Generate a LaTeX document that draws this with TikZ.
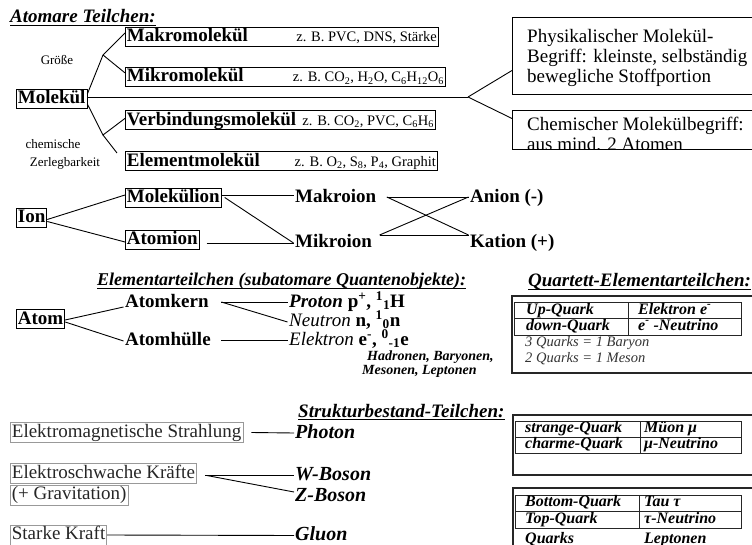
\documentclass[tikz,border=0pt]{standalone}
\usepackage{fontspec}
\setmainfont{Liberation Serif}
\newcommand\fsz[1]{\fontsize{#1}{#1}\selectfont}
\newcommand\exmf{\fontsize{14.5}{16}\selectfont\mdseries}
\begin{document}
\begin{tikzpicture}[x=1pt,y=-1pt,
  lbl/.style={font=\fsz{19}\bfseries, inner xsep=1.5pt, inner ysep=1.5pt, text height=13pt, text depth=3pt},
  bx/.style={lbl, draw=black, line width=0.8pt},
  gbx/.style={font=\fsz{19}, text=black!85, draw=black!40, line width=0.8pt, inner xsep=1.5pt, inner ysep=1.5pt, text height=13pt, text depth=4pt, anchor=west},
  head/.style={font=\fsz{19}\bfseries\itshape, inner sep=0pt, text depth=2.5pt, anchor=base west},
  ul/.style={line width=1pt},
  note/.style={font=\fsz{13}, inner sep=0pt},
  conn/.style={line width=0.9pt},
  bigbox/.style={draw=black, line width=1pt, inner sep=0pt, anchor=north west},
  outer/.style={draw=black!85, line width=1.2pt},
  tab/.style={draw=black!85, line width=1pt},
  tcell/.style={font=\fsz{16}\bfseries\itshape, inner sep=0pt, text height=11pt, text depth=3.5pt, anchor=west},
  tnote/.style={font=\fsz{14.5}\itshape, text=black!80, inner sep=0pt, text height=10pt, text depth=3pt, anchor=west},
  bi/.style={font=\fsz{20}\bfseries\itshape, inner sep=1pt, text height=13pt, text depth=3pt, anchor=west},
  ptext/.style={font=\fsz{19}, inner sep=0pt, anchor=base west},
  hl/.style={font=\fsz{14}\bfseries\itshape, inner sep=0pt, anchor=west},
]
\useasboundingbox (0,0) rectangle (752,545);

% ---------- Atomare Teilchen ----------
\node[head] (t1) at (10,22.5) {Atomare Teilchen:};
\draw[ul] (t1.south west) -- (t1.south east);

\node[bx, anchor=west] (molekul) at (16,99) {Molekül};
\node[bx, anchor=north west] (makro) at (125,27) {\makebox[310pt]{Makromolekül\hfill\exmf z. B. PVC, DNS, Stärke}};
\node[bx, anchor=north west] (mikro) at (125,67) {\makebox[317pt]{Mikromolekül\hfill\exmf z. B. CO\textsubscript{2}, H\textsubscript{2}O, C\textsubscript{6}H\textsubscript{12}O\textsubscript{6}}};
\node[bx, anchor=north west] (verb) at (125,110.5) {\makebox[307pt]{Verbindungsmolekül\hfill\exmf z. B. CO\textsubscript{2}, PVC, C\textsubscript{6}H\textsubscript{6}}};
\node[bx, anchor=north west] (elem) at (125,151.5) {\makebox[309pt]{Elementmolekül\hfill\exmf z. B. O\textsubscript{2}, S\textsubscript{8}, P\textsubscript{4}, Graphit}};

\node[note] (groesse) at (57,60) {Größe};
\node[note] (chem1) at (53,144) {chemische};
\node[note] (chem2) at (65,163) {Zerlegbarkeit};

\coordinate (gu) at (103,55);
\coordinate (gl) at (103,135);
\coordinate (eend) at (117,153);
\coordinate (split) at (468,97);
\draw[conn] ([yshift=5pt]molekul.east) -- (gu) -- ([yshift=4pt]makro.west);
\draw[conn] (gu) -- ([yshift=4pt]mikro.west);
\draw[conn] ([yshift=-5pt]molekul.east) -- (gl) -- ([yshift=2pt]verb.west);
\draw[conn] (gl) -- (eend);

\node[bigbox, minimum width=250pt, minimum height=77pt] (phys) at (512,17) {};
\node[ptext] (ph1) at (527,43) {Physikalischer Molekül-};
\node[ptext] (ph2) at (527,63) {Begriff: kleinste, selbständig};
\node[ptext] (ph3) at (527,83) {bewegliche Stoffportion};

\node[bigbox, minimum width=250pt, minimum height=39pt] (chem) at (512,110) {};
\begin{scope}
  \clip (512,100) rectangle (762,148.5);
  \node[ptext] (ch1) at (527,131) {Chemischer Molekülbegriff:};
  \node[ptext] (ch2) at (527,151) {aus mind. 2 Atomen};
\end{scope}

\draw[conn] ([yshift=2pt]molekul.east) -- (split);
\draw[conn] (split) -- ([yshift=-14.5pt]phys.west);
\draw[conn] (split) -- ([yshift=11.5pt]chem.west);

% ---------- Ion ----------
\node[bx, anchor=west] (ion) at (16,217.5) {Ion};
\node[bx, anchor=west] (molion) at (125,197.5) {Molekülion};
\node[bx, anchor=west] (atomion) at (125,240) {Atomion};
\node[lbl, anchor=west] (makroion) at (293.5,198) {Makroion};
\node[lbl, anchor=west] (mikroion) at (293.5,243) {Mikroion};
\node[lbl, anchor=west] (anion) at (468.5,198) {Anion (-)};
\node[lbl, anchor=west] (kation) at (468.5,243) {Kation (+)};

\draw[conn] ([yshift=-2pt]ion.east) -- ([yshift=2.5pt]molion.west);
\draw[conn] ([yshift=-4pt]ion.east) -- ([yshift=-2pt]atomion.west);
\draw[conn] ([yshift=2.5pt]molion.east) -- ([yshift=3pt]makroion.west);
\draw[conn] ([xshift=3pt]molion.east) -- (mikroion.west);
\draw[conn] ([xshift=7pt,yshift=-3pt]atomion.east) -- (mikroion.west);

\draw[conn] ([xshift=9pt,yshift=1pt]makroion.east) -- ([yshift=1pt]anion.west);
\draw[conn] ([xshift=9pt,yshift=1pt]makroion.east) -- ([yshift=8pt]kation.west);
\draw[conn] ([xshift=6pt,yshift=8pt]mikroion.east) -- ([yshift=8pt]kation.west);
\draw[conn] ([xshift=6pt,yshift=8pt]mikroion.east) -- ([yshift=1pt]anion.west);

% ---------- Elementarteilchen ----------
\node[head, font=\fsz{18}\bfseries\itshape] (t2) at (97,286) {Elementarteilchen (subatomare Quantenobjekte):};
\draw[ul] (t2.south west) -- (t2.south east);

\node[bx, anchor=west] (atom) at (16,319) {Atom};
\node[lbl, anchor=west] (kern) at (123.5,302) {Atomkern};
\node[lbl, anchor=west] (huelle) at (123.5,340) {Atomhülle};
\node[lbl, anchor=west] (proton) at (287.5,302) {\textit{Proton} p\textsuperscript{+}, \textsuperscript{1}\textsubscript{1}H};
\node[lbl, anchor=west] (neutron) at (287.5,321) {{\mdseries\itshape Neutron} n, \textsuperscript{1}\textsubscript{0}n};
\node[lbl, anchor=west] (elektron) at (287.5,340) {{\mdseries\itshape Elektron} e\textsuperscript{-}, \textsuperscript{0}\textsubscript{-1}e};
\node[hl] (had) at (367,357) {Hadronen, Baryonen,};
\node[hl] (mes) at (362,371) {Mesonen, Leptonen};

\draw[conn] ([yshift=-1pt]atom.east) -- ([yshift=-5pt]kern.west);
\draw[conn] ([yshift=-3pt]atom.east) -- ([yshift=-1pt]huelle.west);
\draw[conn] ([xshift=11pt]kern.east) -- (proton.west);
\draw[conn] ([xshift=11pt]kern.east) -- ([yshift=-1pt]neutron.west);
\draw[conn] ([xshift=9pt]huelle.east) -- (elektron.west);

% ---------- Quartett ----------
\node[head] (t3) at (528,287) {Quartett-Elementarteilchen:};
\draw[ul] (t3.south west) -- (t3.south east);
\draw[outer] (512,296) rectangle (762,373);
\draw[tab] (514,302) rectangle (741,335);
\draw[tab] (514,318) -- (741,318);
\draw[tab] (628,302) -- (628,335);
\node[tcell] (q1) at (526,310.5) {Up-Quark};
\node[tcell] (q2) at (638,310.5) {Elektron e\textsuperscript{-}};
\node[tcell] (q3) at (526,326.5) {down-Quark};
\node[tcell] (q4) at (638,326.5) {e\textsuperscript{-} -Neutrino};
\node[tnote] (q5) at (525,343) {3 Quarks = 1 Baryon};
\node[tnote] (q6) at (525,359) {2 Quarks = 1 Meson};

% ---------- Strukturbestand ----------
\node[head] (t4) at (298,417) {Strukturbestand-Teilchen:};
\draw[ul] (t4.south west) -- (t4.south east);

\draw[outer] (513,415) rectangle (762,475);
\draw[tab] (515,421) rectangle (741,453);
\draw[tab] (515,437) -- (741,437);
\draw[tab] (640,421) -- (640,453);
\node[tcell] (s1) at (525,429) {strange-Quark};
\node[tcell] (s2) at (644,429) {Müon μ};
\node[tcell] (s3) at (525,445) {charme-Quark};
\node[tcell] (s4) at (644,445) {μ-Neutrino};

\draw[outer] (513,488) rectangle (762,562);
\draw[tab] (515,495) rectangle (741,528);
\draw[tab] (515,511) -- (741,511);
\draw[tab] (639,495) -- (639,528);
\node[tcell] (b1) at (525,503) {Bottom-Quark};
\node[tcell] (b2) at (644,503) {Tau τ};
\node[tcell] (b3) at (525,520) {Top-Quark};
\node[tcell] (b4) at (644,520) {τ-Neutrino};
\node[tcell] (b5) at (525,540) {Quarks};
\node[tcell] (b6) at (644,540) {Leptonen};

% ---------- Kraefte ----------
\node[gbx] (emag) at (10,432.5) {Elektromagnetische Strahlung};
\node[bi] (photon) at (294,433) {Photon};
\draw[conn] ([xshift=8pt]emag.east) -- (photon.west);

\node[gbx] (eschw) at (10,473.5) {Elektroschwache Kräfte};
\node[gbx] (grav) at (10,495) {(+ Gravitation)};
\node[bi] (wboson) at (294,475) {W-Boson};
\node[bi] (zboson) at (294,496) {Z-Boson};
\draw[conn] ([xshift=8pt,yshift=-1.5pt]eschw.east) -- (wboson.west);
\draw[conn] ([xshift=10pt,yshift=-2pt]eschw.east) -- ([yshift=4pt]zboson.west);

\node[gbx] (starke) at (10,535) {Starke Kraft};
\node[bi] (gluon) at (294,535.5) {Gluon};
\draw[conn] (starke.east) -- (gluon.west);
\end{tikzpicture}
\end{document}
